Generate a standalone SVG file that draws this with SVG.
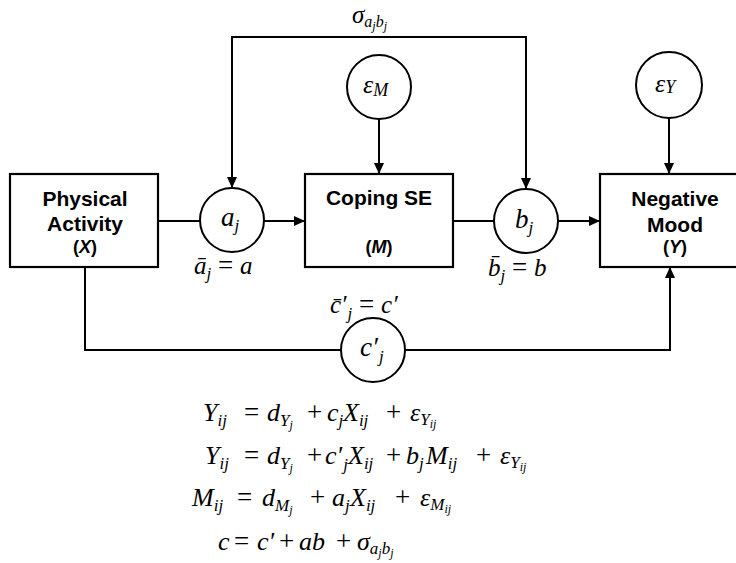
<svg xmlns="http://www.w3.org/2000/svg" width="736" height="563" viewBox="0 0 736 563">
<style>
.box{fill:#fff;stroke:#000;stroke-width:2.2}
.circ{fill:#fff;stroke:#000;stroke-width:2}
.ln{fill:none;stroke:#000;stroke-width:2}
.lbl{font-family:"Liberation Sans",Arial,sans-serif;font-weight:bold;font-size:21px;text-anchor:middle;fill:#000}
.lbs{font-family:"Liberation Sans",Arial,sans-serif;font-weight:bold;font-size:18px;text-anchor:middle;fill:#000}
.m{font-family:"Liberation Serif","Times New Roman",serif;font-style:italic;fill:#000}
.eq{font-family:"Liberation Serif","Times New Roman",serif;font-style:italic;font-size:26px;fill:#000}
.op{font-style:normal;font-size:27px}
.s1{font-size:17px}
.s2{font-size:12px}
</style>
<defs>
<marker id="ah" viewBox="0 0 11 10" refX="11" refY="5" markerWidth="11" markerHeight="10" markerUnits="userSpaceOnUse" orient="auto-start-reverse">
<path d="M0,0 L11,5 L0,10 z" fill="#000"/>
</marker>
</defs>
<rect width="736" height="563" fill="#fff"/>

<g id="connectors">
<line class="ln" x1="158" y1="221" x2="200" y2="221"/>
<line class="ln" x1="264" y1="221" x2="305" y2="221" marker-end="url(#ah)"/>
<line class="ln" x1="453" y1="221" x2="494" y2="221"/>
<line class="ln" x1="558" y1="221" x2="600" y2="221" marker-end="url(#ah)"/>
<line class="ln" x1="379" y1="119" x2="379" y2="174" marker-end="url(#ah)"/>
<line class="ln" x1="669" y1="118" x2="669" y2="174" marker-end="url(#ah)"/>
<path class="ln" d="M232,188 V37 H526 V189" marker-start="url(#ah)" marker-end="url(#ah)"/>
<path class="ln" d="M85,267 V350 H341"/>
<path class="ln" d="M405,350 H670 V267" marker-end="url(#ah)"/>
<text class="m" font-size="25" x="352" y="23">σ<tspan font-size="16" dy="4">a</tspan><tspan class="s2" dy="3">j</tspan><tspan font-size="16" dy="-3">b</tspan><tspan class="s2" dy="3">j</tspan></text>
</g>

<g id="physical-activity">
<rect class="box" x="10" y="174" width="148" height="93"/>
<text class="lbl" x="85" y="206">Physical</text>
<text class="lbl" x="85" y="231">Activity</text>
<text class="lbs" x="85" y="253">(<tspan font-style="italic">X</tspan>)</text>
</g>

<g id="coping-se">
<rect class="box" x="305" y="174" width="148" height="93"/>
<text class="lbl" x="379" y="205">Coping SE</text>
<text class="lbs" x="379" y="253">(<tspan font-style="italic">M</tspan>)</text>
</g>

<g id="negative-mood">
<rect class="box" x="600" y="174" width="150" height="93"/>
<text class="lbl" x="675" y="206">Negative</text>
<text class="lbl" x="675" y="232">Mood</text>
<text class="lbs" x="675" y="253">(<tspan font-style="italic">Y</tspan>)</text>
</g>

<g id="a-j">
<circle class="circ" cx="232" cy="220" r="32"/>
<text class="m" font-size="27" x="221" y="226">a<tspan class="s1" dy="5">j</tspan></text>
<text class="m" font-size="25" x="194" y="274">ā<tspan class="s1" dy="5">j</tspan><tspan font-style="normal" font-size="27" dy="-5"> = </tspan>a</text>
</g>

<g id="b-j">
<circle class="circ" cx="526" cy="221" r="32"/>
<text class="m" font-size="27" x="515" y="228">b<tspan class="s1" dy="5">j</tspan></text>
<text class="m" font-size="25" x="488" y="276">b̄<tspan class="s1" dy="5">j</tspan><tspan font-style="normal" font-size="27" dy="-5"> = </tspan>b</text>
</g>

<g id="c-prime-j">
<circle class="circ" cx="373" cy="350" r="32"/>
<text class="m" font-size="27" x="360" y="356">c′<tspan class="s1" dx="1" dy="6">j</tspan></text>
<text class="m" font-size="25" x="330" y="313">c̄′<tspan class="s1" dx="1" dy="6">j</tspan><tspan font-style="normal" font-size="27" dy="-6"> = </tspan>c′</text>
</g>

<g id="eps-m">
<circle class="circ" cx="379" cy="87" r="32"/>
<text class="m" font-size="26" x="363" y="93">ε<tspan font-size="18" dy="3">M</tspan></text>
</g>

<g id="eps-y">
<circle class="circ" cx="669" cy="85" r="33"/>
<text class="m" font-size="26" x="655" y="92">ε<tspan font-size="18" dy="1">Y</tspan></text>
</g>

<g id="equations">
<text class="eq" y="421"><tspan x="203">Y</tspan><tspan class="s1" dy="5">ij</tspan><tspan class="op" x="244" y="421">=</tspan><tspan x="267" y="421">d</tspan><tspan class="s1" dy="5">Y</tspan><tspan class="s2" dy="3">j</tspan><tspan class="op" x="307" y="421">+</tspan><tspan x="327" y="421">c</tspan><tspan class="s1" dy="5">j</tspan><tspan x="343" y="421">X</tspan><tspan class="s1" dy="5">ij</tspan><tspan class="op" x="386" y="421">+</tspan><tspan x="410" y="421">ε</tspan><tspan class="s1" dy="4">Y</tspan><tspan class="s2" dy="3">ij</tspan></text>

<text class="eq" y="464"><tspan x="205">Y</tspan><tspan class="s1" dy="5">ij</tspan><tspan class="op" x="244" y="464">=</tspan><tspan x="267" y="464">d</tspan><tspan class="s1" dy="5">Y</tspan><tspan class="s2" dy="3">j</tspan><tspan class="op" x="307" y="464">+</tspan><tspan x="325" y="464">c′</tspan><tspan class="s1" dx="1" dy="6">j</tspan><tspan x="348" y="464">X</tspan><tspan class="s1" dy="5">ij</tspan><tspan class="op" x="386" y="464">+</tspan><tspan x="406" y="464">b</tspan><tspan class="s1" dy="5">j</tspan><tspan x="426" y="464">M</tspan><tspan class="s1" dy="5">ij</tspan><tspan class="op" x="476" y="464">+</tspan><tspan x="500" y="464">ε</tspan><tspan class="s1" dy="4">Y</tspan><tspan class="s2" dy="3">ij</tspan></text>

<text class="eq" y="506"><tspan x="192">M</tspan><tspan class="s1" dy="5">ij</tspan><tspan class="op" x="237" y="506">=</tspan><tspan x="262" y="506">d</tspan><tspan class="s1" dy="5">M</tspan><tspan class="s2" dy="3">j</tspan><tspan class="op" x="310" y="506">+</tspan><tspan x="332" y="506">a</tspan><tspan class="s1" dy="5">j</tspan><tspan x="350" y="506">X</tspan><tspan class="s1" dy="5">ij</tspan><tspan class="op" x="395" y="506">+</tspan><tspan x="420" y="506">ε</tspan><tspan class="s1" dy="4">M</tspan><tspan class="s2" dy="3">ij</tspan></text>

<text class="eq" y="550"><tspan x="218">c</tspan><tspan class="op" x="234" y="550">=</tspan><tspan x="257" y="550">c′</tspan><tspan class="op" x="279" y="550">+</tspan><tspan x="299" y="550">ab</tspan><tspan class="op" x="336" y="550">+</tspan><tspan x="357" y="550">σ</tspan><tspan class="s1" dy="4">a</tspan><tspan class="s2" dy="3">j</tspan><tspan class="s1" dy="-3">b</tspan><tspan class="s2" dy="3">j</tspan></text>
</g>
</svg>
